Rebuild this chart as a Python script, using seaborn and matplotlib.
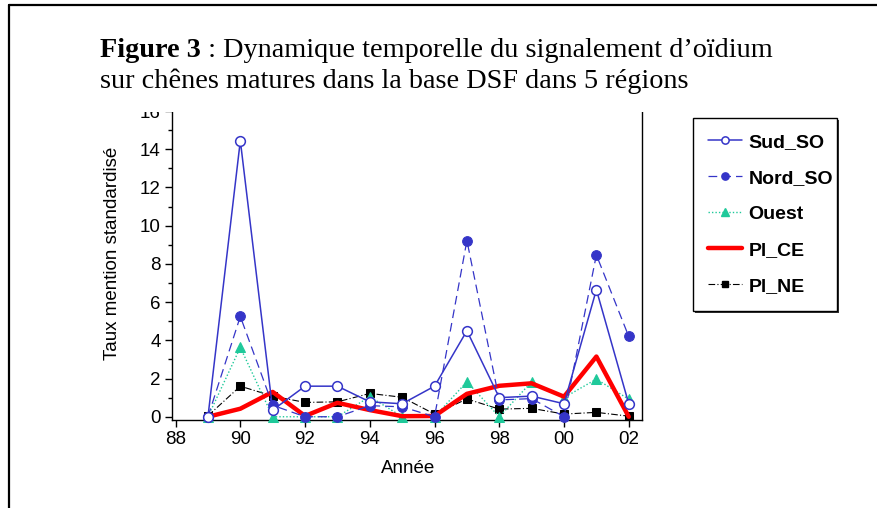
import numpy as np
import pandas as pd
import matplotlib
matplotlib.use("Agg")
import matplotlib.pyplot as plt
from matplotlib.lines import Line2D
from matplotlib.patches import Rectangle
import seaborn as sns

# Years (two-digit labels on the axis)
years = [1989, 1990, 1991, 1992, 1993, 1994, 1995, 1996, 1997, 1998, 1999, 2000, 2001, 2002]

# Standardised mention rate per region
sud_so = [0.0, 14.45, 0.35, 1.6, 1.6, 0.78, 0.68, 1.6, 4.5, 1.0, 1.08, 0.68, 6.65, 0.68]
nord_so = [0.0, 5.25, 0.6, 0.0, 0.0, 0.58, 0.52, 0.0, 9.22, 0.88, 0.95, 0.0, 8.47, 4.2]
ouest = [0.0, 3.63, 0.0, 0.0, 0.0, 1.05, 0.0, 0.0, 1.83, 0.0, 1.83, 1.0, 1.97, 0.92]
pl_ce = [0.0, 0.42, 1.3, 0.04, 0.73, 0.35, 0.03, 0.04, 1.2, 1.62, 1.75, 1.05, 3.15, 0.0]
pl_ne = [0.05, 1.6, 1.08, 0.75, 0.78, 1.22, 1.02, 0.14, 0.93, 0.4, 0.44, 0.14, 0.23, 0.03]

regions = ["Sud_SO", "Nord_SO", "Ouest", "Pl_CE", "Pl_NE"]
legend_labels = ["Sud_SO", "Nord_SO", "Ouest", "Pl_CE", "Pl_NE"]
xticks = [1988, 1990, 1992, 1994, 1996, 1998, 2000, 2002]
xtick_labels = ["88", "90", "92", "94", "96", "98", "00", "02"]
yticks = [0, 2, 4, 6, 8, 10, 12, 14, 16]

df = pd.DataFrame({
    "year": years * 5,
    "value": sud_so + nord_so + ouest + pl_ce + pl_ne,
    "region": sum([[r] * len(years) for r in regions], []),
})

sns.set_theme(style="ticks")
plt.rcParams["font.family"] = ["Liberation Sans", "DejaVu Sans"]
for key in ["text.color", "axes.labelcolor", "xtick.color", "ytick.color"]:
    plt.rcParams[key] = "black"

W, H = 877, 508
fig = plt.figure(figsize=(W / 100, H / 100), dpi=100)
fig.patch.set_facecolor("white")
ax = fig.add_axes([171.7 / W, 1 - 420 / H, (641.7 - 171.7) / W, (420 - 111) / H])

BLUE = "#3535c8"
GREEN = "#1fc99a"
styles = {
    "Sud_SO": dict(color=BLUE, lw=1.1, ls="-", marker="o", ms=7,
                   mfc="white", mec=BLUE, mew=1.1),
    "Nord_SO": dict(color=BLUE, lw=0.9, ls=(0, (7, 4)), marker="o", ms=7,
                    mfc=BLUE, mec=BLUE),
    "Ouest": dict(color=GREEN, lw=1.0, ls=(0, (1, 1.5)), marker="^", ms=7,
                  mfc=GREEN, mec=GREEN),
    "Pl_CE": dict(color="#ff0000", lw=3.2, ls="-", marker=None),
    "Pl_NE": dict(color="black", lw=0.8, ls=(0, (6, 2, 1, 2)), marker="s", ms=6,
                  mfc="black", mec="black"),
}
order = ["Pl_NE", "Ouest", "Pl_CE", "Nord_SO", "Sud_SO"]
zorders = {"Pl_NE": 2, "Ouest": 3, "Pl_CE": 4, "Nord_SO": 5, "Sud_SO": 6}
for r in order:
    st = dict(styles[r])
    sub = df[df["region"] == r]
    sns.lineplot(data=sub, x="year", y="value", ax=ax, legend=False,
                 zorder=zorders[r], clip_on=False, **st)

ax.set_xlim(1987.88, 2002.4)
ax.set_ylim(-0.17, 16)
ax.set_xticks(xticks)
ax.set_xticklabels(xtick_labels)
ax.set_yticks(yticks)
ax.set_yticks(np.arange(1, 16, 2), minor=True)
ax.tick_params(axis="both", which="major", direction="out", length=5, width=1,
               labelsize=13.5, pad=3, colors="black")
ax.tick_params(axis="y", which="minor", direction="out", length=3, width=1)
ax.set_xlabel("Année", fontsize=13.5)
ax.set_ylabel("Taux mention standardisé", fontsize=13.5)
ax.xaxis.set_label_coords(0.504, -0.128)
ax.yaxis.set_label_coords(-0.108, 0.54)
for s in ["left", "bottom", "right"]:
    ax.spines[s].set_visible(True)
    ax.spines[s].set_color("black")
    ax.spines[s].set_linewidth(1.0)
ax.spines["top"].set_visible(False)
ax.set_facecolor("white")

# Legend box with a dark drop shadow
bx0, bx1, by0, by1 = 693, 837, 118, 311
fig.add_artist(Rectangle(((bx0 + 2) / W, 1 - (by1 + 2) / H), (bx1 - bx0) / W,
                         (by1 - by0) / H, transform=fig.transFigure,
                         facecolor="#333333", edgecolor="none", zorder=8))
fig.add_artist(Rectangle((bx0 / W, 1 - by1 / H), (bx1 - bx0) / W, (by1 - by0) / H,
                         transform=fig.transFigure, facecolor="white",
                         edgecolor="black", lw=1.0, zorder=9))
handles = []
for r in regions:
    st = dict(styles[r])
    handles.append(Line2D([0], [0], **st))
leg = fig.legend(handles, legend_labels, loc="upper left",
                 bbox_to_anchor=(708 / W, 1 - 133 / H), borderaxespad=0,
                 borderpad=0, frameon=False,
                 prop={"weight": "bold", "size": 14}, handlelength=1.75,
                 handletextpad=0.32, labelspacing=0.95, markerscale=0.75)
leg.set_zorder(10)

# White band behind the heading
fig.add_artist(Rectangle((0, 1 - 112 / H), 1, 112 / H, transform=fig.transFigure,
                         facecolor="white", edgecolor="none", zorder=5))

# Heading: bold lead-in followed by regular text
serif = ["Liberation Serif", "DejaVu Serif"]
x0 = 100 / W
fs_title = 20.3
t1 = fig.text(x0, 1 - 57 / H, "Figure 3", fontsize=fs_title, fontweight="bold",
              family=serif, zorder=6, va="baseline")
fig.canvas.draw()
bb = t1.get_window_extent(fig.canvas.get_renderer())
fig.text(bb.x1 / W, 1 - 57 / H, " : Dynamique temporelle du signalement d\u2019oïdium",
         fontsize=fs_title, family=serif, zorder=6, va="baseline")
fig.text(x0, 1 - 88 / H, "sur chênes matures dans la base DSF dans 5 régions",
         fontsize=fs_title, family=serif, zorder=6, va="baseline")

# Page frame (left and top rules)
fig.add_artist(Line2D([9 / W, 9 / W], [0, 1 - 5 / H], transform=fig.transFigure,
                      color="black", lw=1.6, zorder=7))
fig.add_artist(Line2D([9 / W, 1], [1 - 5 / H, 1 - 5 / H], transform=fig.transFigure,
                      color="black", lw=1.6, zorder=7))

fig.savefig("out.png", dpi=100)
